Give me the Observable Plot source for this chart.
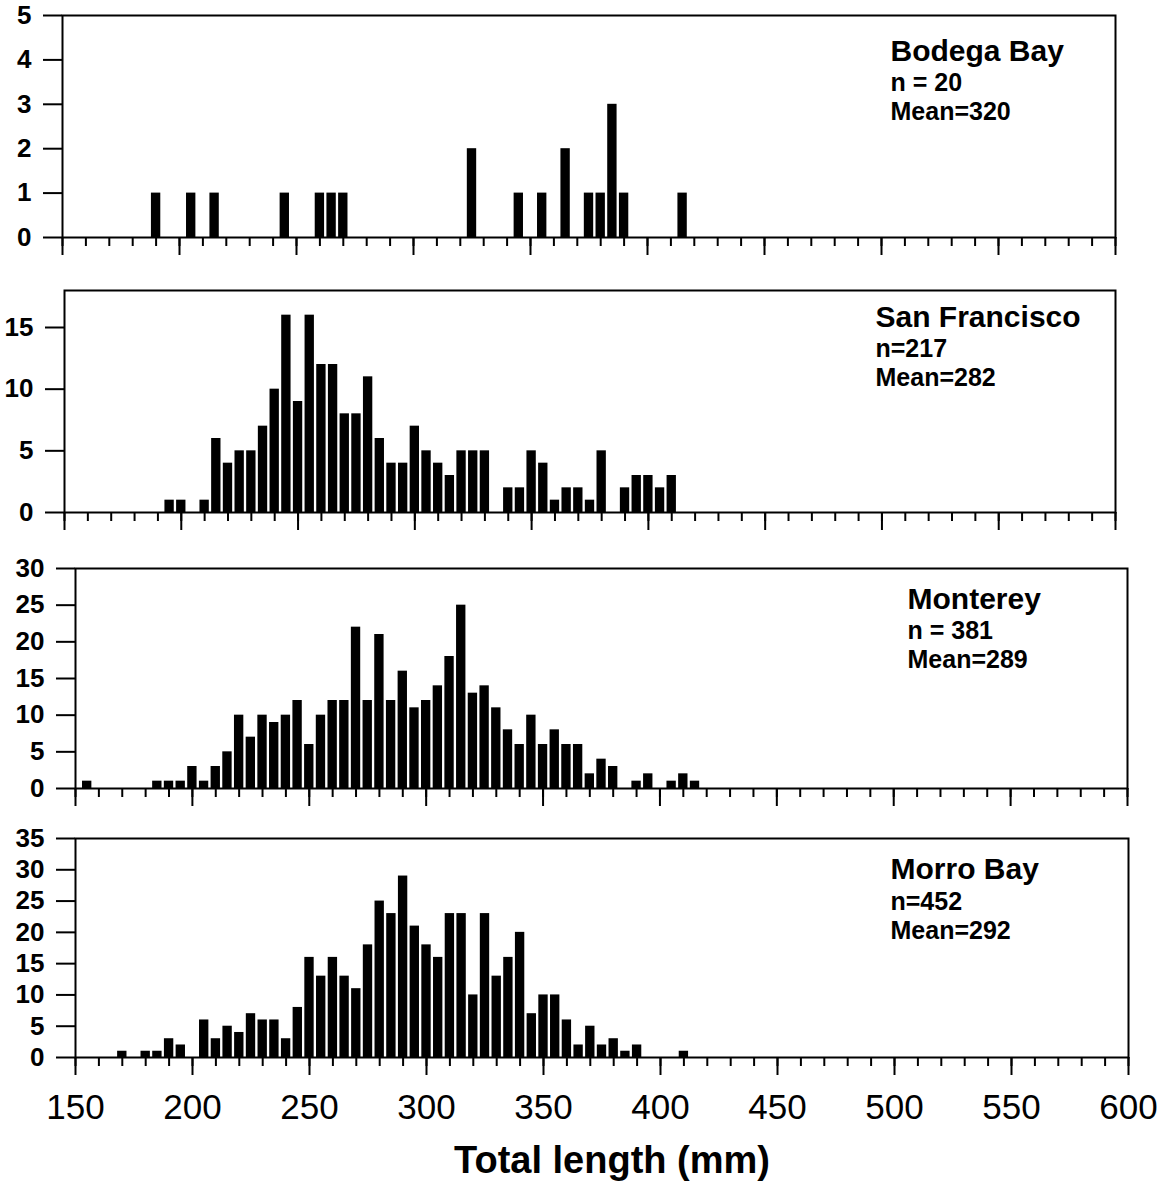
<!DOCTYPE html>
<html>
<head>
<meta charset="utf-8">
<script src="https://cdn.jsdelivr.net/npm/d3@7"></script>
<script src="https://cdn.jsdelivr.net/npm/@observablehq/plot@0.6"></script>
<style>
  html, body { margin: 0; padding: 0; background: #fff; }
  #chart { position: relative; width: 1170px; height: 1183px; overflow: hidden;
           font-family: "Liberation Sans", Arial, sans-serif; }
  .panel { position: absolute; left: 0; }
</style>
</head>
<body>
<div id="chart"></div>
<script>
// ---------- DATA ----------
const sites = ["Bodega Bay", "San Francisco", "Monterey", "Morro Bay"];
const sampleLabels = ["n = 20", "n=217", "n = 381", "n=452"];
const meanLabels = ["Mean=320", "Mean=282", "Mean=289", "Mean=292"];

const bodegaLength = [190, 205, 215, 245, 260, 265, 270, 325, 345, 355, 365, 375, 380, 385, 390, 415];
const bodegaCount  = [1, 1, 1, 1, 1, 1, 1, 2, 1, 1, 2, 1, 1, 3, 1, 1];

const sfLength = [195, 200, 210, 215, 220, 225, 230, 235, 240, 245, 250, 255, 260, 265, 270, 275,
  280, 285, 290, 295, 300, 305, 310, 315, 320, 325, 330, 340, 345, 350, 355, 360, 365, 370, 375,
  380, 390, 395, 400, 405, 410];
const sfCount = [1, 1, 1, 6, 4, 5, 5, 7, 10, 16, 9, 16, 12, 12, 8, 8,
  11, 6, 4, 4, 7, 5, 4, 3, 5, 5, 5, 2, 2, 5, 4, 1, 2, 2, 1,
  5, 2, 3, 3, 2, 3];

const montereyLength = [155, 185, 190, 195, 200, 205, 210, 215, 220, 225, 230, 235, 240, 245, 250,
  255, 260, 265, 270, 275, 280, 285, 290, 295, 300, 305, 310, 315, 320, 325, 330, 335, 340, 345,
  350, 355, 360, 365, 370, 375, 380, 390, 395, 405, 410, 415];
const montereyCount = [1, 1, 1, 1, 3, 1, 3, 5, 10, 7, 10, 9, 10, 12, 6,
  10, 12, 12, 22, 12, 21, 12, 16, 11, 12, 14, 18, 25, 13, 14, 11, 8, 6, 10,
  6, 8, 6, 6, 2, 4, 3, 1, 2, 1, 2, 1];

const morroLength = [170, 180, 185, 190, 195, 205, 210, 215, 220, 225, 230, 235, 240, 245, 250,
  255, 260, 265, 270, 275, 280, 285, 290, 295, 300, 305, 310, 315, 320, 325, 330, 335, 340, 345,
  350, 355, 360, 365, 370, 375, 380, 385, 390, 410];
const morroCount = [1, 1, 1, 3, 2, 6, 3, 5, 4, 7, 6, 6, 3, 8, 16,
  13, 16, 13, 11, 18, 25, 23, 29, 21, 18, 16, 23, 23, 10, 23, 13, 16, 20, 7,
  10, 10, 6, 2, 5, 2, 3, 1, 2, 1];

const siteLengths = [bodegaLength, sfLength, montereyLength, morroLength];
const siteCounts = [bodegaCount, sfCount, montereyCount, morroCount];

const yMax = [5, 18, 30, 35];
const yTicks = [[0, 1, 2, 3, 4, 5], [0, 5, 10, 15], [0, 5, 10, 15, 20, 25, 30], [0, 5, 10, 15, 20, 25, 30, 35]];
const xDomain = [150, 600];
const xMajorTicks = [150, 200, 250, 300, 350, 400, 450, 500, 550, 600];
const xMinorTicks = d3.range(150, 601, 10);
const xTitle = "Total length (mm)";

// ---------- LAYOUT (pixels) ----------
const layout = [
  {top: 0,   height: 267, mt: 15, mb: 30,  ml: 62, mr: 55, tdx: 828, tdy: [45, 75, 104]},
  {top: 270, height: 272, mt: 20, mb: 30,  ml: 64, mr: 55, tdx: 811, tdy: [36, 66, 95]},
  {top: 545, height: 273, mt: 23, mb: 30,  ml: 75, mr: 43, tdx: 832, tdy: [40, 70, 99]},
  {top: 813, height: 370, mt: 25, mb: 126, ml: 75, mr: 42, tdx: 815, tdy: [40, 71, 100]}
];
const FONT = "'Liberation Sans', Arial, Helvetica, sans-serif";
const HALF_BAR = 2; // bar half-width in mm (bins are 5 mm)

const chart = document.getElementById("chart");

sites.forEach((site, i) => {
  const L = layout[i];
  const rows = siteLengths[i].map((len, k) => ({len, count: siteCounts[i][k]}));
  const last = i === sites.length - 1;

  const marks = [
    Plot.rectY(rows, {
      x1: d => d.len - HALF_BAR,
      x2: d => d.len + HALF_BAR,
      y: "count",
      fill: "black"
    }),
    Plot.frame({stroke: "black", strokeWidth: 2}),
    Plot.axisY({
      ticks: yTicks[i], tickSize: 19, tickPadding: 12, strokeWidth: 2,
      fontSize: 26, fontWeight: "bold", label: null, tickFormat: d => String(d)
    }),
    Plot.axisX({
      ticks: xMinorTicks, tickSize: 9, strokeWidth: 2, tickFormat: () => "", label: null
    }),
    Plot.axisX({
      ticks: xMajorTicks, tickSize: 18, strokeWidth: 2, label: null,
      tickPadding: 19, fontSize: 35,
      tickFormat: last ? (d => String(d)) : (() => "")
    }),
    Plot.text([site], {
      frameAnchor: "top-left", dx: L.tdx, dy: L.tdy[0], textAnchor: "start",
      lineAnchor: "bottom", fontSize: 30, fontWeight: "bold", fill: "black"
    }),
    Plot.text([sampleLabels[i]], {
      frameAnchor: "top-left", dx: L.tdx, dy: L.tdy[1], textAnchor: "start",
      lineAnchor: "bottom", fontSize: 25, fontWeight: "bold", fill: "black"
    }),
    Plot.text([meanLabels[i]], {
      frameAnchor: "top-left", dx: L.tdx, dy: L.tdy[2], textAnchor: "start",
      lineAnchor: "bottom", fontSize: 25, fontWeight: "bold", fill: "black"
    })
  ];
  if (last) {
    marks.push(Plot.text([xTitle], {
      frameAnchor: "bottom", dx: 10, dy: 103, lineAnchor: "middle",
      fontSize: 38, fontWeight: "bold", fill: "black"
    }));
  }

  const svg = Plot.plot({
    width: 1170,
    height: L.height,
    marginTop: L.mt,
    marginBottom: L.mb,
    marginLeft: L.ml,
    marginRight: L.mr,
    x: {domain: xDomain, axis: null},
    y: {domain: [0, yMax[i]], axis: null},
    style: {fontFamily: FONT, color: "black", background: "transparent", overflow: "visible"},
    marks
  });
  const wrap = document.createElement("div");
  wrap.className = "panel";
  wrap.style.top = L.top + "px";
  wrap.appendChild(svg);
  chart.appendChild(wrap);
});
</script>
</body>
</html>
